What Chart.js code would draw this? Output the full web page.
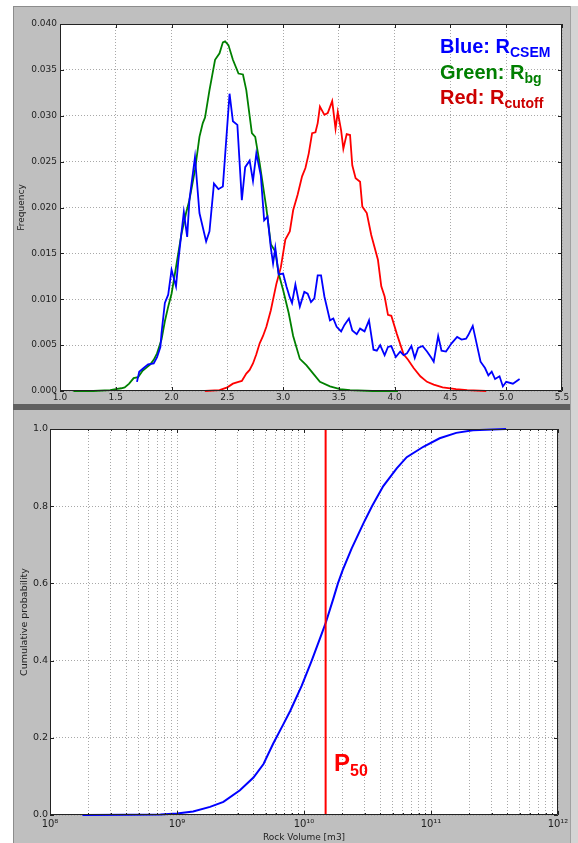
<!DOCTYPE html>
<html><head><meta charset="utf-8">
<script src="https://cdn.jsdelivr.net/npm/chart.js@4.4.0/dist/chart.umd.min.js"></script>
<style>
html,body{margin:0;padding:0;background:#fff;width:578px;height:843px;overflow:hidden;position:relative;font-family:"DejaVu Sans",sans-serif;}
.abs{position:absolute;}
#p1{left:13px;top:6px;width:557px;height:398px;background:#bfbfbf;box-shadow:inset 1px 1px 0 #8c8c8c;}
#sep{left:13px;top:404px;width:557px;height:6px;background:#606060;}
#p2{left:13px;top:410px;width:557px;height:433px;background:#bfbfbf;box-shadow:inset 1px 0 0 #8c8c8c;}
#rs{left:570px;top:6px;width:8px;height:837px;background:#d4d4d4;box-shadow:inset 1px 0 0 #a0a0a0;}
canvas{position:absolute;}
#c1{left:13px;top:6px;}
#c2{left:13px;top:410px;}
.leg{position:absolute;left:440px;font-family:"Liberation Sans",Arial,sans-serif;font-weight:bold;font-size:20px;line-height:20px;white-space:nowrap;}
.leg span{font-size:14px;position:relative;top:4px;}
#p50{position:absolute;left:334px;top:751px;font-family:"Liberation Sans",Arial,sans-serif;font-weight:bold;font-size:24px;line-height:24px;color:#ff0000;white-space:nowrap;}
#p50 span{font-size:16px;position:relative;top:5px;}
</style></head><body>
<div id="p1" class="abs"></div>
<div id="sep" class="abs"></div>
<div id="p2" class="abs"></div>
<div id="rs" class="abs"></div>
<canvas id="c1" width="557" height="398"></canvas>
<canvas id="c2" width="557" height="433"></canvas>
<div class="leg" style="top:36px;color:#0000ff">Blue: R<span>CSEM</span></div>
<div class="leg" style="top:62px;color:#007f00">Green: R<span>bg</span></div>
<div class="leg" style="top:87px;color:#cc0000">Red: R<span>cutoff</span></div>
<div id="p50">P<span>50</span></div>
<script>
// ---------- Top chart data (resistivity histograms) ----------
const blueX = [1.69,1.71,1.75,1.79,1.84,1.87,1.90,1.91,1.94,1.97,2.00,2.04,2.06,2.08,2.11,2.14,2.16,2.21,2.25,2.31,2.34,2.38,2.42,2.46,2.52,2.55,2.59,2.63,2.66,2.70,2.73,2.76,2.80,2.83,2.86,2.89,2.91,2.93,2.96,3.00,3.03,3.06,3.08,3.11,3.15,3.19,3.22,3.25,3.28,3.31,3.34,3.37,3.42,3.45,3.48,3.52,3.55,3.59,3.62,3.66,3.69,3.73,3.77,3.81,3.84,3.87,3.91,3.94,3.97,4.01,4.05,4.08,4.11,4.15,4.18,4.21,4.25,4.29,4.33,4.35,4.39,4.42,4.46,4.51,4.56,4.60,4.64,4.66,4.70,4.77,4.81,4.84,4.87,4.90,4.94,4.97,5.00,5.06,5.12];
const blueY = [0.0010,0.0021,0.0025,0.0029,0.0030,0.0037,0.0048,0.0063,0.0096,0.0105,0.0132,0.0114,0.0141,0.0163,0.0195,0.0168,0.0208,0.0255,0.0194,0.0163,0.0174,0.0226,0.0220,0.0223,0.0324,0.0294,0.0290,0.0208,0.0244,0.0251,0.0229,0.0259,0.0235,0.0186,0.0190,0.0156,0.0139,0.0156,0.0127,0.0128,0.0114,0.0102,0.0096,0.0116,0.0092,0.0108,0.0106,0.0097,0.0101,0.0126,0.0126,0.0103,0.0077,0.0079,0.0070,0.0065,0.0072,0.0079,0.0066,0.0062,0.0068,0.0065,0.0077,0.0045,0.0044,0.0050,0.0039,0.0048,0.0049,0.0037,0.0043,0.0039,0.0041,0.0049,0.0036,0.0047,0.0049,0.0043,0.0036,0.0032,0.0060,0.0044,0.0043,0.0052,0.0059,0.0056,0.0057,0.0061,0.0071,0.0032,0.0025,0.0017,0.0021,0.0013,0.0016,0.0005,0.0010,0.0008,0.0013];
const greenX = [1.12,1.30,1.45,1.50,1.55,1.58,1.62,1.66,1.70,1.74,1.78,1.81,1.84,1.87,1.91,1.94,1.97,2.00,2.04,2.09,2.13,2.16,2.21,2.25,2.28,2.30,2.34,2.39,2.43,2.46,2.48,2.51,2.55,2.60,2.64,2.67,2.72,2.75,2.79,2.85,2.89,2.93,2.96,3.00,3.05,3.09,3.15,3.21,3.27,3.33,3.42,3.51,3.60,3.80,4.03];
const greenY = [0.0000,0.0000,0.0001,0.0002,0.0003,0.0004,0.0008,0.0014,0.0015,0.0022,0.0026,0.0029,0.0034,0.0041,0.0056,0.0076,0.0092,0.0106,0.0135,0.0172,0.0194,0.0208,0.0241,0.0277,0.0292,0.0298,0.0328,0.0361,0.0368,0.0380,0.0381,0.0377,0.0361,0.0346,0.0345,0.0328,0.0281,0.0277,0.0248,0.0199,0.0160,0.0152,0.0128,0.0110,0.0085,0.0060,0.0035,0.0028,0.0019,0.0010,0.0005,0.0002,0.0001,0.0000,0.0000];
const redX = [2.30,2.43,2.50,2.55,2.60,2.63,2.67,2.70,2.73,2.76,2.79,2.82,2.85,2.89,2.94,2.98,3.02,3.06,3.09,3.13,3.17,3.20,3.23,3.26,3.29,3.31,3.33,3.37,3.40,3.44,3.47,3.49,3.52,3.54,3.57,3.60,3.62,3.65,3.69,3.71,3.75,3.79,3.85,3.88,3.91,3.94,3.97,4.02,4.08,4.12,4.17,4.23,4.29,4.35,4.43,4.55,4.65,4.82];
const redY = [0.0000,0.0001,0.0004,0.0008,0.0010,0.0011,0.0019,0.0023,0.0030,0.0040,0.0052,0.0060,0.0070,0.0088,0.0117,0.0135,0.0165,0.0174,0.0197,0.0214,0.0234,0.0243,0.0259,0.0281,0.0282,0.0292,0.0310,0.0301,0.0303,0.0316,0.0286,0.0304,0.0284,0.0264,0.0280,0.0279,0.0246,0.0232,0.0228,0.0201,0.0194,0.0170,0.0143,0.0114,0.0103,0.0083,0.0082,0.0062,0.0040,0.0034,0.0025,0.0016,0.0010,0.0007,0.0004,0.0002,0.0001,0.0000];
const freqTicksX = [1.0,1.5,2.0,2.5,3.0,3.5,4.0,4.5,5.0,5.5];
const freqTicksY = [0.000,0.005,0.010,0.015,0.020,0.025,0.030,0.035,0.040];

// ---------- Bottom chart data (cumulative rock volume) ----------
const cdfVolume = [1.8e8,4.0e8,7.4e8,1.0e9,1.34e9,1.82e9,2.32e9,3.13e9,4.0e9,4.8e9,5.7e9,6.9e9,7.8e9,9.6e9,1.15e10,1.38e10,1.49e10,1.70e10,1.85e10,2.02e10,2.37e10,2.93e10,3.43e10,4.21e10,5.37e10,6.44e10,8.7e10,1.17e11,1.58e11,2.14e11,3.9e11];
const cdfProb   = [0,0.0005,0.001,0.004,0.009,0.021,0.034,0.064,0.097,0.132,0.184,0.236,0.27,0.335,0.40,0.47,0.50,0.56,0.60,0.635,0.69,0.755,0.80,0.852,0.898,0.927,0.954,0.976,0.99,0.997,1.0];
const p50Volume = 1.48e10;
const cdfTicksY = [0,0.2,0.4,0.6,0.8,1.0];
const cdfDecades = [8,9,10,11,12];

Chart.defaults.font.family = "'DejaVu Sans', sans-serif";
Chart.defaults.color = '#222';

const pts = (xs, ys) => xs.map((x, i) => ({x: x, y: ys[i]}));
const SUP = {'0':'⁰','1':'¹','2':'²','3':'³','4':'⁴','5':'⁵','6':'⁶','7':'⁷','8':'⁸','9':'⁹'};
const sup = n => String(n).split('').map(c => SUP[c]).join('');
const isDecade = v => Math.abs(Math.log10(v) - Math.round(Math.log10(v))) < 1e-9;

const gridOpts = {color:'#a8a8a8', lineWidth:1, drawTicks:false};
const borderOpts = {display:false, dash:[1,2]};

const whiteArea = {
  id:'whiteArea',
  beforeDraw(chart) {
    const {ctx, chartArea:a} = chart;
    ctx.save();
    ctx.fillStyle = '#ffffff';
    ctx.fillRect(a.left, a.top, a.right - a.left, a.bottom - a.top);
    ctx.restore();
  }
};

const frame = {
  id:'frame',
  afterDatasetsDraw(chart) {
    const {ctx, chartArea:a, scales} = chart;
    ctx.save();
    ctx.strokeStyle = '#222';
    ctx.lineWidth = 1;
    ctx.setLineDash([]);
    ctx.beginPath();
    ctx.rect(a.left + 0.5, a.top + 0.5, a.right - a.left - 1, a.bottom - a.top - 1);
    ctx.stroke();
    const xs = scales.x, ys = scales.y;
    ctx.beginPath();
    xs.ticks.forEach(t => {
      const p = Math.round(xs.getPixelForValue(t.value)) + 0.5;
      const len = (xs.type === 'logarithmic' && !isDecade(t.value)) ? 2 : 4;
      ctx.moveTo(p, a.bottom); ctx.lineTo(p, a.bottom - len);
      ctx.moveTo(p, a.top); ctx.lineTo(p, a.top + len);
    });
    ys.ticks.forEach(t => {
      const p = Math.round(ys.getPixelForValue(t.value)) + 0.5;
      ctx.moveTo(a.left, p); ctx.lineTo(a.left + 4, p);
      ctx.moveTo(a.right, p); ctx.lineTo(a.right - 4, p);
    });
    ctx.stroke();
    ctx.restore();
  }
};

new Chart(document.getElementById('c1'), {
  type: 'scatter',
  data: { datasets: [
    {data: pts(blueX, blueY), borderColor:'#0000ff', showLine:true, clip:false},
    {data: pts(greenX, greenY), borderColor:'#008000', showLine:true, clip:false},
    {data: pts(redX, redY), borderColor:'#ff0000', showLine:true, clip:false}
  ]},
  options: {
    responsive:false, animation:false, devicePixelRatio:1,
    layout:{padding:{left:0, right:8, top:18, bottom:0}},
    plugins:{legend:{display:false}, tooltip:{enabled:false}},
    elements:{point:{radius:0}, line:{borderWidth:1.8, tension:0}},
    scales: {
      x: {type:'linear', min:1, max:5.5,
        afterBuildTicks: s => { s.ticks = freqTicksX.map(v => ({value:v})); },
        ticks:{callback: v => Number(v).toFixed(1), font:{size:9}, color:'#222', padding:1, maxRotation:0, autoSkip:false},
        grid: gridOpts, border: borderOpts,
        afterFit: s => { s.height = 13; s.paddingLeft = 0; s.paddingRight = 0; }
      },
      y: {type:'linear', min:0, max:0.04,
        afterBuildTicks: s => { s.ticks = freqTicksY.map(v => ({value:v})); },
        ticks:{callback: v => Number(v).toFixed(3), font:{size:9}, color:'#222', padding:3, autoSkip:false},
        title:{display:true, text:'Frequency', font:{size:9}, color:'#222', padding:{top:3, bottom:0}},
        grid: gridOpts, border: borderOpts,
        afterFit: s => { s.width = 47; s.paddingTop = 0; s.paddingBottom = 0; }
      }
    }
  },
  plugins:[whiteArea, frame]
});

new Chart(document.getElementById('c2'), {
  type: 'scatter',
  data: { datasets: [
    {data: [{x:p50Volume, y:0}, {x:p50Volume, y:1}], borderColor:'#ff0000', borderWidth:2, showLine:true, clip:false},
    {data: pts(cdfVolume, cdfProb), borderColor:'#0000ff', borderWidth:2, showLine:true, clip:false}
  ]},
  options: {
    responsive:false, animation:false, devicePixelRatio:1,
    layout:{padding:{left:0, right:12, top:19, bottom:0}},
    plugins:{legend:{display:false}, tooltip:{enabled:false}},
    elements:{point:{radius:0}, line:{tension:0}},
    scales: {
      x: {type:'logarithmic', min:1e8, max:1e12,
        afterBuildTicks: s => {
          const t = [];
          for (let e = cdfDecades[0]; e < cdfDecades[cdfDecades.length-1]; e++) {
            for (let m = 1; m <= 9; m++) t.push({value: m * Math.pow(10, e)});
          }
          t.push({value: Math.pow(10, cdfDecades[cdfDecades.length-1])});
          s.ticks = t;
        },
        ticks:{callback: v => isDecade(v) ? '10' + sup(Math.round(Math.log10(v))) : '', font:{size:10}, color:'#222', padding:3, maxRotation:0, autoSkip:false},
        title:{display:true, text:'Rock Volume [m3]', font:{size:9}, color:'#222', padding:{top:0, bottom:0}},
        grid: gridOpts, border: borderOpts,
        afterFit: s => { s.height = 28; s.paddingLeft = 0; s.paddingRight = 0; }
      },
      y: {type:'linear', min:0, max:1,
        afterBuildTicks: s => { s.ticks = cdfTicksY.map(v => ({value:v})); },
        ticks:{callback: v => Number(v).toFixed(1), font:{size:9.5}, color:'#222', padding:2, autoSkip:false},
        title:{display:true, text:'Cumulative probability', font:{size:9.5}, color:'#222', padding:{top:6, bottom:0}},
        grid: gridOpts, border: borderOpts,
        afterFit: s => { s.width = 37; s.paddingTop = 0; s.paddingBottom = 0; }
      }
    }
  },
  plugins:[whiteArea, frame]
});
</script>
</body></html>
